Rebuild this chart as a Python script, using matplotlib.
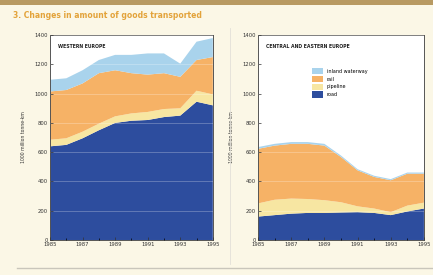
import matplotlib
matplotlib.use("Agg")
import matplotlib.pyplot as plt
from matplotlib.patches import Rectangle, Patch
import numpy as np

years = [1985, 1986, 1987, 1988, 1989, 1990, 1991, 1992, 1993, 1994, 1995]
tick_years = [1985, 1987, 1989, 1991, 1993, 1995]
modes = ["road", "pipeline", "rail", "inland waterway"]
colors = {"road": "#2d4d9e", "pipeline": "#f7e6a2", "rail": "#f6b266", "inland waterway": "#a9d3ec"}

# Western Europe layer values
we_road = [640, 650, 695, 750, 800, 815, 820, 840, 850, 945, 920]
we_pipeline = [45, 45, 45, 45, 45, 50, 55, 55, 50, 75, 75]
we_rail = [330, 330, 330, 345, 315, 275, 255, 245, 215, 210, 255]
we_waterway = [80, 80, 90, 90, 105, 125, 145, 135, 90, 125, 130]

# Central and Eastern Europe layer values
ce_road = [160, 170, 180, 185, 185, 188, 190, 185, 170, 195, 215]
ce_pipeline = [90, 105, 103, 95, 87, 70, 40, 30, 20, 40, 40]
ce_rail = [373, 370, 374, 377, 373, 309, 246, 216, 218, 218, 198]
ce_waterway = [12, 12, 12, 12, 12, 10, 8, 8, 8, 8, 8]

fig = plt.figure(figsize=(4.33, 2.75), dpi=100)
fig.patch.set_facecolor("#fbf7e6")

# top banner
fig.add_artist(Rectangle((0, 0.982), 1, 0.018, transform=fig.transFigure,
                         facecolor="#b89a62", edgecolor="none"))
fig.text(0.03, 0.945, "3. Changes in amount of goods transported", fontsize=5.5,
         color="#e3a33a", ha="left", va="center", fontweight="bold")

# separators
fig.add_artist(plt.Line2D([0.04, 1.0], [0.025, 0.025], transform=fig.transFigure,
                          color="#c9c6bb", lw=1.0))
fig.add_artist(plt.Line2D([0.532, 0.532], [0.04, 0.9], transform=fig.transFigure,
                          color="#e2e0d8", lw=0.6))

def panel(rect, data, title, legend=False):
    ax = fig.add_axes(rect)
    ax.set_facecolor("white")
    ax.stackplot(years, *data, colors=[colors[m] for m in modes], linewidth=0)
    ax.set_xlim(1985, 1995)
    ax.set_ylim(0, 1400)
    ax.set_yticks(range(0, 1401, 200))
    ax.set_xticks(tick_years)
    ax.set_xticks(years, minor=True)
    ax.tick_params(axis="both", labelsize=3.8, length=2, width=0.5, pad=1.5,
                   colors="#333333", direction="in")
    ax.tick_params(axis="x", which="minor", length=1.5, width=0.5, direction="in")
    ax.yaxis.grid(True, color="white", lw=0.5, alpha=0.35)
    ax.set_axisbelow(False)
    for s in ax.spines.values():
        s.set_color("#555555")
        s.set_linewidth(0.7)
    ax.set_ylabel("1000 million tonne-km", fontsize=3.3, labelpad=6, color="#333333")
    ax.text(0.05, 0.955, title, transform=ax.transAxes, fontsize=3.3,
            fontweight="bold", color="#222222", ha="left", va="top")
    if legend:
        handles = [Patch(facecolor=colors[m], edgecolor="none", label=m)
                   for m in reversed(modes)]
        ax.legend(handles=handles, loc="upper left", bbox_to_anchor=(0.3, 0.86),
                  frameon=False, fontsize=3.5, handlelength=2.2, handleheight=1.6,
                  labelspacing=0.3, handletextpad=0.8)
    return ax

panel([0.1155, 0.1273, 0.376, 0.745],
      [we_road, we_pipeline, we_rail, we_waterway], "WESTERN EUROPE")
panel([0.596, 0.1273, 0.383, 0.745],
      [ce_road, ce_pipeline, ce_rail, ce_waterway], "CENTRAL AND EASTERN EUROPE", legend=True)

fig.savefig("out.png", dpi=100, facecolor=fig.get_facecolor())
